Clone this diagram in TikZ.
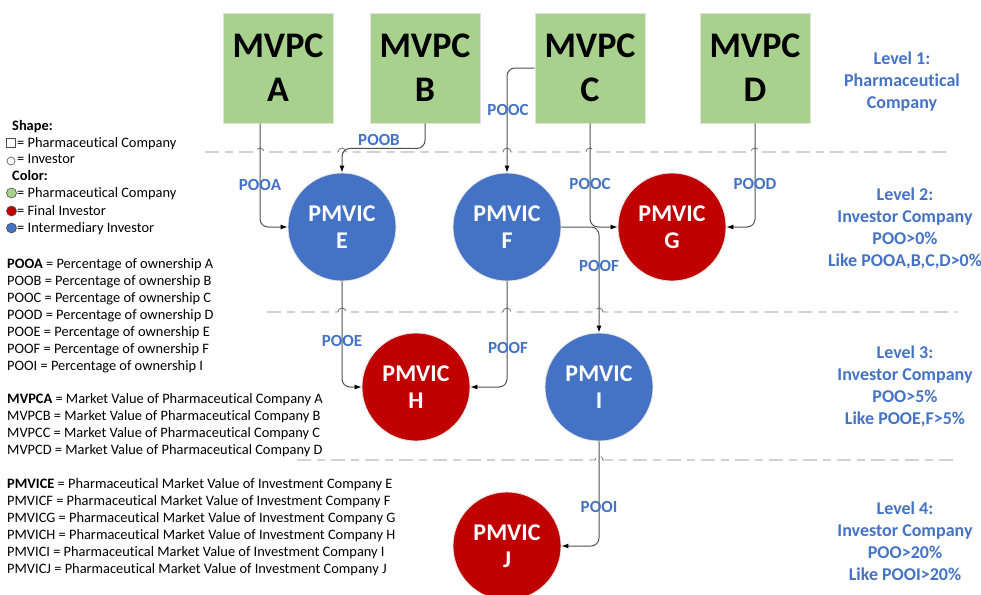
\documentclass[tikz,border=0pt]{standalone}
\usepackage{fontspec}
\setmainfont{Carlito}[Ligatures=NoCommon]
\usetikzlibrary{arrows.meta}
\definecolor{pgreen}{HTML}{A9D18E}
\definecolor{pblue}{HTML}{4472C4}
\definecolor{pred}{HTML}{C00000}
\definecolor{lineg}{HTML}{505050}
\tikzset{
 company/.style={rectangle, fill=pgreen, draw=black!12, line width=0.8pt, minimum width=110pt, minimum height=110pt, inner sep=0pt, font=\fontsize{36}{44}\selectfont\bfseries, align=center},
 invest/.style={circle, draw=black!10, line width=0.8pt, minimum size=108pt, inner sep=0pt, text=white, font=\fontsize{24}{27}\selectfont\bfseries, align=center},
 inter/.style={invest, fill=pblue},
 final/.style={invest, fill=pred},
 link/.style={draw=lineg, line width=1pt, rounded corners=8pt, -{Latex[length=7pt,width=5pt,black]}},
 plabel/.style={text=pblue, font=\fontsize{17}{18}\selectfont\bfseries, inner sep=0pt},
 level/.style={text=pblue, font=\fontsize{18}{22}\selectfont\bfseries, align=center, inner sep=0pt},
 sep/.style={draw=gray, line width=0.9pt, dash pattern=on 14pt off 6pt on 8pt off 6pt},
 hop/.style={start angle=180, end angle=0, radius=4pt},
 legend/.style={font=\fontsize{14.4}{17}\selectfont, anchor=base west, inner sep=0pt},
 sym/.style={circle, minimum size=10pt, inner sep=0pt, draw=black!70, line width=0.6pt},
}
\begin{document}
\begin{tikzpicture}[x=1pt,y=-1pt]
\useasboundingbox (0,0) rectangle (981,594);

% companies
\node[company] (A) at (278,68) {MVPC\\A};
\node[company] (B) at (425,68) {MVPC\\B};
\node[company] (C) at (590,68) {MVPC\\C};
\node[company] (D) at (755,68) {MVPC\\D};

% investors
\node[inter] (E) at (342,227) {PMVIC\\E};
\node[inter] (F) at (507,227) {PMVIC\\F};
\node[final] (G) at (672,227) {PMVIC\\G};
\node[final] (H) at (416,387) {PMVIC\\H};
\node[inter] (I) at (599,387) {PMVIC\\I};
\node[final] (J) at (507,546) {PMVIC\\J};

% separators (with line hops over the connectors)
\draw[sep] (205,152) -- (256,152) arc[hop] -- (338,152) arc[hop] -- (503,152) arc[hop]
  -- (586,152) arc[hop] -- (751,152) arc[hop] -- (950,152);
\draw[sep] (267,312) -- (338,312) arc[hop] -- (503,312) arc[hop] -- (595,312) arc[hop] -- (957,312);
\draw[sep] (297,460) -- (595,460) arc[hop] -- (957,460);

% connectors
\draw[link] ([xshift=-18pt]A.south) |- (E.west);
\draw[link] (B.south) -- ++(0,25) -| (E.north);
\draw[link] (C.west) -| (F.north);
\draw[link] (C.south) |- (G.west);
\draw[link] (D.south) |- (G.east);
\draw[link] (F.east) -| (I.north);
\draw[link] (E.south) |- (H.west);
\draw[link] (F.south) |- (H.east);
\draw[link] (I.south) |- (J.east);

% connector labels
\node[plabel] (lA) at (260,185) {POOA};
\node[plabel] (lB) at (379,140) {POOB};
\node[plabel] (lC1) at (508,110) {POOC};
\node[plabel] (lC2) at (590,184) {POOC};
\node[plabel] (lD) at (755,184) {POOD};
\node[plabel] (lF1) at (599,266) {POOF};
\node[plabel] (lE) at (342,341) {POOE};
\node[plabel] (lF2) at (508,348) {POOF};
\node[plabel] (lI) at (599,507) {POOI};

% level texts
\node[level] (L1) at (902,82) {Level 1:\\Pharmaceutical\\Company};
\node[level] (L2) at (905,228) {Level 2:\\Investor Company\\POO>0\%\\Like POOA,B,C,D>0\%};
\node[level] (L3) at (905,386) {Level 3:\\Investor Company\\POO>5\%\\Like POOE,F>5\%};
\node[level] (L4) at (905,541) {Level 4:\\Investor Company\\POO>20\%\\Like POOI>20\%};

% legend: shape and colour
\node[legend] (sh) at (12,130.5) {\textbf{Shape:}};
\node[rectangle, minimum size=9pt, inner sep=0pt, draw=black!70, line width=0.6pt, fill=white] (ssq) at (11,143) {};
\node[legend] (sht1) at (17,147.5) {= Pharmaceutical Company};
\node[sym, minimum size=8pt, fill=white] (sci) at (11,161) {};
\node[legend] (sht2) at (17,163.5) {= Investor};
\node[legend] (co) at (12,180.5) {\textbf{Color:}};
\node[sym, fill=pgreen] (cg) at (11.5,193) {};
\node[legend] (cot1) at (17,197.5) {= Pharmaceutical Company};
\node[sym, fill=pred] (cr) at (11.5,211) {};
\node[legend] (cot2) at (17,215.5) {= Final Investor};
\node[sym, fill=pblue] (cb) at (11.5,228) {};
\node[legend] (cot3) at (17,232.5) {= Intermediary Investor};

% legend: abbreviations
\foreach \yy/\tt [count=\k] in {
 268/{\textbf{POOA} = Percentage of ownership A},
 285/{POOB = Percentage of ownership B},
 302/{POOC = Percentage of ownership C},
 319/{POOD = Percentage of ownership D},
 336/{POOE = Percentage of ownership E},
 353/{POOF = Percentage of ownership F},
 370/{POOI = Percentage of ownership I},
 403/{\textbf{MVPCA} = Market Value of Pharmaceutical Company A},
 420/{MVPCB = Market Value of Pharmaceutical Company B},
 437/{MVPCC = Market Value of Pharmaceutical Company C},
 454/{MVPCD = Market Value of Pharmaceutical Company D},
 488/{\textbf{PMVICE} = Pharmaceutical Market Value of Investment Company E},
 505/{PMVICF = Pharmaceutical Market Value of Investment Company F},
 522/{PMVICG = Pharmaceutical Market Value of Investment Company G},
 539/{PMVICH = Pharmaceutical Market Value of Investment Company H},
 556/{PMVICI = Pharmaceutical Market Value of Investment Company I},
 573/{PMVICJ = Pharmaceutical Market Value of Investment Company J}}
 {\node[legend] (ab\k) at (7,\yy) {\tt};}
\end{tikzpicture}
\end{document}
